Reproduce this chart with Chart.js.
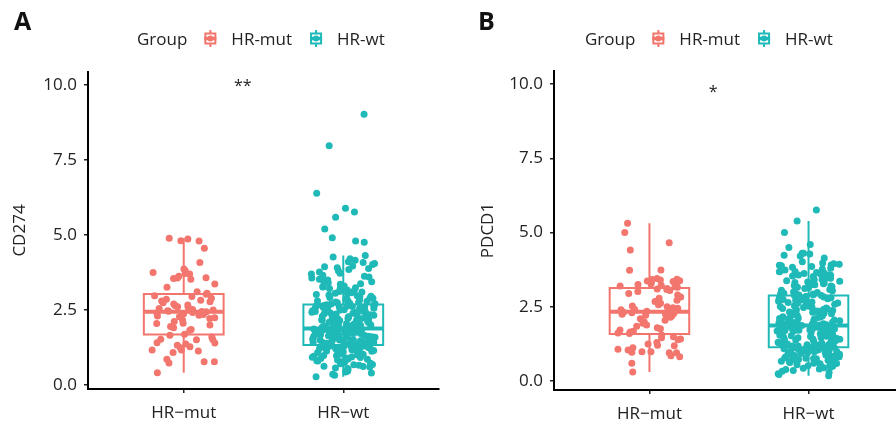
<!DOCTYPE html>
<html>
<head>
<meta charset="utf-8">
<script src="https://cdn.jsdelivr.net/npm/chart.js@4.4.1/dist/chart.umd.min.js"></script>
<style>
  html, body { margin: 0; padding: 0; background: #fff; width: 896px; height: 428px; overflow: hidden; position: relative; }
  #chartA { position: absolute; left: 0; top: 0; }
  #chartB { position: absolute; left: 466px; top: 0; }
</style>
</head>
<body>
<canvas id="chartA" width="448" height="428"></canvas>
<canvas id="chartB" width="442" height="428"></canvas>
<script>
// groups and axis text
const groups = ['HR-mut', 'HR-wt'];
const axisLabels = ['HR\u2212mut', 'HR\u2212wt'];
const yTicks = [0, 2.5, 5, 7.5, 10];
const colors = ['#F3766E', '#1FBAB8'];

// CD274 expression
const cd274Mut = [4.80, 4.87, 4.81, 4.89, 4.56, 4.08, 3.87, 3.81, 3.72, 3.75, 3.70, 3.53, 3.57, 3.58, 3.55, 3.63, 3.26, 3.37, 3.11, 3.06, 3.03,
  2.98, 2.95, 2.89, 2.86, 2.83, 2.80, 2.78, 2.74, 2.70, 2.67, 2.64, 2.61, 2.59, 2.55, 2.52, 2.50, 2.48, 2.46, 2.45, 2.44,
  2.42, 2.40, 2.38, 2.35, 2.33, 2.30, 2.28, 2.24, 2.22, 2.17, 2.12, 2.06, 2.05, 2.00, 1.95, 1.91, 1.85, 1.83, 1.69,
  1.66, 1.60, 1.52, 1.53, 1.51, 1.41, 1.40, 1.37, 1.33, 1.28, 1.24, 1.17, 1.17, 1.14, 1.09, 0.86, 0.78, 0.78, 0.74, 0.41];

const cd274Wt = [0.28, 0.33, 0.36, 0.40, 0.44, 0.47, 0.50, 0.53, 0.55, 0.57,
  0.60, 0.62, 0.63, 0.66, 0.68, 0.69, 0.71, 0.73, 0.74, 0.77,
  0.79, 0.80, 0.81, 0.84, 0.86, 0.87, 0.89, 0.90, 0.92, 0.93,
  0.94, 0.96, 0.98, 0.99, 1.00, 1.01, 1.03, 1.04, 1.06, 1.07,
  1.08, 1.09, 1.11, 1.12, 1.13, 1.14, 1.15, 1.17, 1.18, 1.18,
  1.19, 1.21, 1.22, 1.22, 1.23, 1.24, 1.25, 1.26, 1.26, 1.27,
  1.28, 1.28, 1.29, 1.29, 1.30, 1.30, 1.31, 1.31, 1.32, 1.32, 1.32, 1.33,
  1.34, 1.35, 1.35, 1.36, 1.37, 1.38, 1.38, 1.39, 1.40, 1.41,
  1.42, 1.42, 1.43, 1.44, 1.45, 1.46, 1.46, 1.47, 1.48, 1.49,
  1.50, 1.50, 1.51, 1.52, 1.53, 1.54, 1.55, 1.55, 1.56, 1.57,
  1.58, 1.59, 1.59, 1.60, 1.61, 1.62, 1.63, 1.63, 1.64, 1.65,
  1.66, 1.67, 1.67, 1.68, 1.69, 1.70, 1.71, 1.72, 1.72, 1.73,
  1.74, 1.75, 1.76, 1.76, 1.77, 1.78, 1.79, 1.80, 1.80, 1.81,
  1.82, 1.83, 1.83, 1.84, 1.85, 1.85, 1.86, 1.86, 1.87, 1.87, 1.87, 1.88,
  1.89, 1.90, 1.91, 1.92, 1.93, 1.95, 1.96, 1.97, 1.98, 1.99,
  2.00, 2.02, 2.03, 2.04, 2.05, 2.06, 2.08, 2.09, 2.10, 2.11,
  2.12, 2.14, 2.15, 2.16, 2.17, 2.18, 2.20, 2.21, 2.22, 2.23,
  2.24, 2.26, 2.27, 2.28, 2.29, 2.31, 2.32, 2.33, 2.34, 2.35,
  2.37, 2.38, 2.39, 2.40, 2.42, 2.43, 2.44, 2.45, 2.46, 2.48,
  2.49, 2.50, 2.51, 2.52, 2.54, 2.55, 2.56, 2.57, 2.58, 2.59,
  2.60, 2.61, 2.62, 2.63, 2.64, 2.65, 2.65, 2.66, 2.66, 2.67, 2.67, 2.68,
  2.70, 2.71, 2.73, 2.74, 2.76, 2.77, 2.79, 2.80, 2.82, 2.84,
  2.85, 2.87, 2.89, 2.90, 2.92, 2.94, 2.96, 2.98, 3.00, 3.02,
  3.04, 3.06, 3.08, 3.10, 3.12, 3.14, 3.17, 3.19, 3.22, 3.24,
  3.27, 3.28, 3.30, 3.33, 3.36, 3.38, 3.41, 3.44, 3.47, 3.50,
  3.53, 3.57, 3.60, 3.63, 3.66, 3.70, 3.73, 3.77, 3.81, 3.85,
  3.88, 3.91, 3.94, 3.97, 4.02, 4.05, 4.08, 4.11, 4.16, 4.21, 4.27, 4.32,
  4.76, 4.80, 4.91, 5.20, 5.59, 5.77, 5.89, 6.39, 7.97, 9.02];

// PDCD1 expression
const pdcd1Mut = [5.31, 5.00, 4.66, 4.41, 3.73, 3.74, 3.43, 3.40, 3.38, 3.35, 3.33, 3.30, 3.28, 3.25, 3.23, 3.42, 3.37, 3.20, 3.18, 3.16, 3.45,
  3.12, 3.10, 3.08, 3.05, 3.02, 2.95, 2.90, 2.83, 2.79, 2.72, 2.68, 2.62, 2.57, 2.53, 2.50, 2.47, 2.45, 2.42, 2.40, 2.37, 2.35,
  2.32, 2.30, 2.28, 2.26, 2.25, 2.22, 2.20, 2.15, 2.10, 2.05, 2.00, 1.95, 1.89, 1.85, 1.80, 1.76, 1.72, 1.68, 1.65, 1.62, 1.60,
  1.55, 1.49, 1.46, 1.42, 1.39, 1.25, 1.21, 1.19, 1.07, 1.05, 0.99, 0.99, 0.97, 0.95, 0.95, 0.82, 0.85, 0.60, 0.31, 1.30, 1.12];

const pdcd1Wt = [0.18, 0.22, 0.25, 0.29, 0.33, 0.36, 0.39, 0.41, 0.43, 0.45,
  0.47, 0.49, 0.50, 0.52, 0.53, 0.55, 0.56, 0.58, 0.59, 0.60,
  0.62, 0.63, 0.64, 0.66, 0.67, 0.68, 0.70, 0.71, 0.72, 0.73,
  0.75, 0.76, 0.77, 0.78, 0.80, 0.81, 0.82, 0.83, 0.84, 0.86,
  0.87, 0.88, 0.89, 0.90, 0.91, 0.92, 0.93, 0.94, 0.95, 0.96,
  0.97, 0.98, 0.99, 1.00, 1.01, 1.02, 1.03, 1.04, 1.05, 1.06,
  1.07, 1.08, 1.08, 1.09, 1.10, 1.11, 1.11, 1.12, 1.13, 1.13, 1.14, 1.14,
  1.16, 1.18, 1.18, 1.21, 1.22, 1.22, 1.25, 1.26, 1.28, 1.29,
  1.31, 1.31, 1.33, 1.34, 1.35, 1.37, 1.38, 1.39, 1.41, 1.42,
  1.43, 1.44, 1.46, 1.47, 1.47, 1.49, 1.50, 1.51, 1.53, 1.54,
  1.55, 1.56, 1.57, 1.59, 1.60, 1.61, 1.62, 1.63, 1.64, 1.66,
  1.67, 1.68, 1.69, 1.70, 1.71, 1.72, 1.73, 1.74, 1.75, 1.76,
  1.77, 1.78, 1.79, 1.80, 1.80, 1.81, 1.82, 1.83, 1.84, 1.84,
  1.85, 1.85, 1.86, 1.86, 1.86, 1.87, 1.87, 1.87, 1.87, 1.88, 1.88, 1.88,
  1.89, 1.90, 1.92, 1.93, 1.95, 1.96, 1.98, 2.00, 2.01, 2.03,
  2.04, 2.06, 2.08, 2.09, 2.11, 2.12, 2.14, 2.16, 2.17, 2.19,
  2.20, 2.22, 2.24, 2.25, 2.27, 2.28, 2.30, 2.32, 2.33, 2.35,
  2.36, 2.38, 2.40, 2.41, 2.43, 2.44, 2.46, 2.48, 2.49, 2.51,
  2.52, 2.54, 2.55, 2.57, 2.59, 2.60, 2.62, 2.63, 2.65, 2.66,
  2.68, 2.69, 2.71, 2.72, 2.74, 2.75, 2.77, 2.78, 2.80, 2.81,
  2.83, 2.84, 2.85, 2.86, 2.87, 2.88, 2.89, 2.90, 2.91, 2.91, 2.92, 2.92,
  2.94, 2.96, 2.98, 3.00, 3.02, 3.04, 3.06, 3.08, 3.10, 3.12,
  3.14, 3.16, 3.18, 3.20, 3.22, 3.24, 3.26, 3.28, 3.30, 3.32,
  3.34, 3.36, 3.38, 3.40, 3.42, 3.44, 3.46, 3.48, 3.50, 3.52,
  3.54, 3.56, 3.58, 3.60, 3.62, 3.64, 3.66, 3.69, 3.71, 3.74,
  3.77, 3.80, 3.86, 3.88, 3.90, 3.93, 3.95, 3.98,
  3.57, 3.68, 3.83, 3.91, 4.02, 4.14, 4.21, 4.24, 4.28, 4.30, 4.30, 4.50, 4.60, 5.00, 5.39, 5.76];

// significance labels from the compare-means test
const sigLabels = ['**', '*'];

Chart.defaults.font.family = "'Open Sans', 'Noto Sans', sans-serif";
Chart.defaults.font.size = 17;
Chart.defaults.color = '#222';

function quantile(s, p) {
  const h = (s.length - 1) * p, lo = Math.floor(h);
  const next = lo + 1 < s.length ? s[lo + 1] : s[lo];
  return s[lo] + (h - lo) * (next - s[lo]);
}

function boxStats(vals) {
  const s = [...vals].sort((a, b) => a - b);
  const q1 = quantile(s, 0.25), med = quantile(s, 0.5), q3 = quantile(s, 0.75);
  const iqr = q3 - q1;
  const lo = s.find(v => v >= q1 - 1.5 * iqr);
  const hi = [...s].reverse().find(v => v <= q3 + 1.5 * iqr);
  return { q1, med, q3, lo, hi };
}

// fixed pseudo-jitter so the picture is the same on every run
function jitterOffset(i, seed) {
  const h = Math.sin((i + 1) * 12.9898 + seed * 78.233) * 43758.5453;
  return (h - Math.floor(h) - 0.5) * 0.4;
}

const HALF = 0.25;

function boxDatasets(vals, c) {
  const s = boxStats(vals);
  const gap = { x: c, y: null };
  const outline = [
    { x: c, y: s.lo }, { x: c, y: s.q1 }, gap,
    { x: c, y: s.q3 }, { x: c, y: s.hi }, gap,
    { x: c, y: s.q1 }, { x: c + HALF, y: s.q1 }, { x: c + HALF, y: s.q3 },
    { x: c - HALF, y: s.q3 }, { x: c - HALF, y: s.q1 }, { x: c, y: s.q1 }
  ];
  const line = {
    type: 'line', showLine: true, pointRadius: 0, fill: false,
    borderColor: colors[c], spanGaps: false, borderCapStyle: 'butt',
    borderJoinStyle: 'miter', tension: 0, order: 2
  };
  return [
    Object.assign({}, line, { data: outline, borderWidth: 2 }),
    Object.assign({}, line, { data: [{ x: c - HALF, y: s.med }, { x: c + HALF, y: s.med }], borderWidth: 4 })
  ];
}

function pointDataset(vals, c, seed) {
  return {
    type: 'scatter',
    data: vals.map((v, i) => ({ x: c + jitterOffset(i, seed), y: v })),
    backgroundColor: colors[c], borderWidth: 0, pointRadius: 3.5, order: 1
  };
}

function drawKey(ctx, x, cy, color) {
  ctx.save();
  ctx.strokeStyle = color;
  ctx.fillStyle = color;
  ctx.lineWidth = 2;
  ctx.beginPath(); ctx.moveTo(x + 6, cy - 8.5); ctx.lineTo(x + 6, cy + 8.5); ctx.stroke();
  ctx.fillStyle = '#fff';
  ctx.fillRect(x + 1, cy - 5, 10, 10);
  ctx.strokeRect(x + 1, cy - 5, 10, 10);
  ctx.lineWidth = 3.5;
  ctx.beginPath(); ctx.moveTo(x, cy); ctx.lineTo(x + 12, cy); ctx.stroke();
  ctx.fillStyle = color;
  ctx.beginPath(); ctx.arc(x + 6, cy, 3, 0, Math.PI * 2); ctx.fill();
  ctx.restore();
}

const annotations = {
  id: 'annotations',
  afterDraw(chart, args, opts) {
    const { ctx, scales: { x, y } } = chart;
    ctx.save();
    ctx.fillStyle = '#111';
    ctx.textBaseline = 'alphabetic';
    ctx.textAlign = 'left';
    ctx.font = "bold 25px 'Open Sans'";
    ctx.fillText(opts.letter, opts.letterX, 30);

    // legend row
    ctx.font = "17px 'Open Sans'";
    ctx.fillStyle = '#222';
    let lx = opts.legendX;
    ctx.fillText('Group', lx, 45);
    lx += ctx.measureText('Group').width + 17;
    groups.forEach((g, c) => {
      drawKey(ctx, lx, 38.5, colors[c]);
      lx += 27;
      ctx.fillText(g, lx, 45);
      lx += ctx.measureText(g).width + 18;
    });

    // significance label
    ctx.textAlign = 'center';
    ctx.font = "16px 'Open Sans'";
    ctx.fillText(opts.sig, x.getPixelForValue(opts.sigX), y.getPixelForValue(opts.sigY));
    ctx.restore();
  }
};

function makeChart(id, series, cfg) {
  const datasets = [];
  series.forEach((vals, c) => {
    datasets.push(...boxDatasets(vals, c));
    datasets.push(pointDataset(vals, c, cfg.seed + c));
  });
  return new Chart(document.getElementById(id), {
    type: 'scatter',
    data: { datasets },
    options: {
      responsive: false,
      animation: false,
      layout: { padding: { top: cfg.top, left: 0, right: cfg.right, bottom: 0 } },
      plugins: {
        legend: { display: false },
        tooltip: { enabled: false },
        annotations: cfg.annot
      },
      scales: {
        x: {
          type: 'linear', min: -0.6, max: 1.6,
          afterBuildTicks: s => { s.ticks = groups.map((g, i) => ({ value: i })); },
          afterFit: s => { s.height = cfg.xHeight; },
          grid: { display: true, drawOnChartArea: false, drawTicks: true, tickLength: 4, color: '#222', lineWidth: 1.5 },
          border: { display: true, color: '#000', width: 2 },
          ticks: { callback: v => axisLabels[v], padding: 10, maxRotation: 0, autoSkip: false, color: '#222' }
        },
        y: {
          min: cfg.yMin, max: cfg.yMax,
          afterBuildTicks: s => { s.ticks = yTicks.map(v => ({ value: v })); },
          afterFit: s => { s.width = 88; },
          grid: { display: true, drawOnChartArea: false, drawTicks: true, tickLength: 4, color: '#222', lineWidth: 1.5 },
          border: { display: true, color: '#000', width: 2 },
          ticks: { callback: v => v.toFixed(1), padding: 7, color: '#222' },
          title: { display: true, text: cfg.yTitle, color: '#222', padding: { top: cfg.titlePad, bottom: 0 } }
        }
      }
    },
    plugins: [annotations]
  });
}

makeChart('chartA', [cd274Mut, cd274Wt], {
  seed: 1, top: 72, right: 9, xHeight: 39, yMin: -0.13, yMax: 10.43, yTitle: 'CD274', titlePad: 10,
  annot: { letter: 'A', letterX: 14, legendX: 137, sig: sigLabels[0], sigX: 0.37, sigY: 9.80 }
});

makeChart('chartB', [pdcd1Mut, pdcd1Wt], {
  seed: 5, top: 71, right: 0, xHeight: 38, yMin: -0.30, yMax: 10.44, yTitle: 'PDCD1', titlePad: 12,
  annot: { letter: 'B', letterX: 12, legendX: 119, sig: sigLabels[1], sigX: 0.40, sigY: 9.55 }
});
</script>
</body>
</html>
